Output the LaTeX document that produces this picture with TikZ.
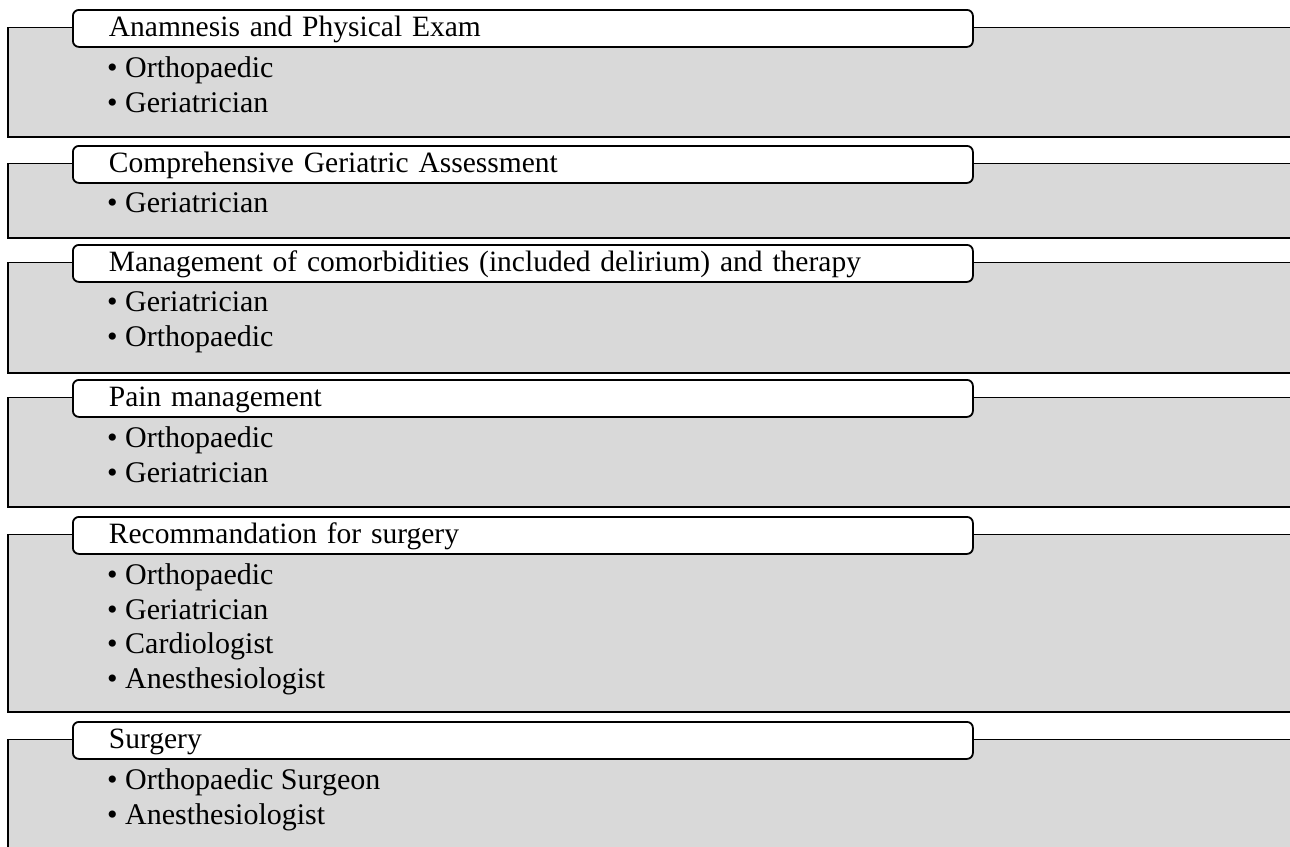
\documentclass[tikz,border=0pt]{standalone}
\usepackage{fontspec}
\setmainfont{Liberation Serif}
\usetikzlibrary{positioning}
\definecolor{stagegray}{HTML}{D9D9D9}

\begin{document}
\begin{tikzpicture}[x=1pt, y=-1pt, font=\fontsize{30}{34.7}\selectfont,
  stagebox/.style={fill=stagegray, draw=black, line width=1.8pt},
  stagetitle/.style={draw=black, fill=white, line width=1.8pt, rounded corners=6pt,
    anchor=north west, minimum width=900pt, minimum height=37pt,
    inner xsep=0pt, inner ysep=4.5pt, text height=22pt, text depth=6pt,
    text width=828pt, align=left, font=\fontsize{29.5}{34}\selectfont},
  stageitems/.style={anchor=north west, inner sep=0pt, align=left}]
\clip (0,0) rectangle (1290,846);
% one row per stage: title top, bottom of the grey panel, title, who takes part
\foreach \n/\top/\bot/\ttl/\items in {
  1/9/137/{Anamnesis and Physical Exam}/{• Orthopaedic\\• Geriatrician},
  2/145/238/{Comprehensive Geriatric Assessment}/{• Geriatrician},
  3/244/373/{Management of comorbidities (included delirium) and therapy}/{• Geriatrician\\• Orthopaedic},
  4/379/507/{Pain management}/{• Orthopaedic\\• Geriatrician},
  5/516/712/{Recommandation for surgery}/{• Orthopaedic\\• Geriatrician\\• Cardiologist\\• Anesthesiologist},
  6/721/870/{Surgery}/{• Orthopaedic Surgeon\\• Anesthesiologist}} {
  \draw[stagebox] (1300,\top+18.5) -- (8,\top+18.5) -- (8,\bot) -- (1300,\bot);
  \node[stagetitle] (title\n) at (72,\top) {\ttl};
  \node[stageitems] (items\n) at (107,\top+47.5) {\items};
}
\end{tikzpicture}
\end{document}
